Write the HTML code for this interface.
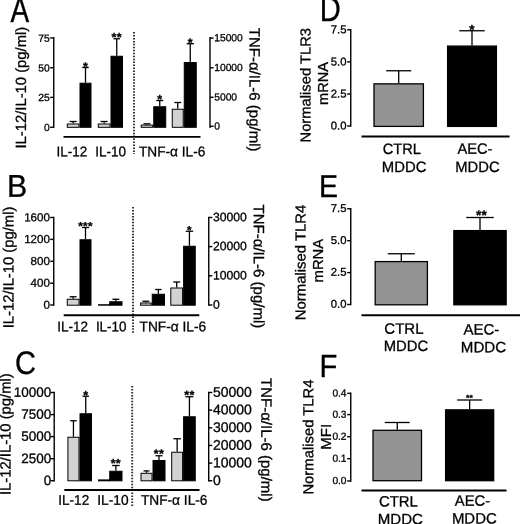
<!DOCTYPE html>
<html lang="en"><head><meta charset="utf-8"><title>Figure</title>
<style>
html,body{margin:0;padding:0;background:#fff;}
body{width:520px;height:524px;overflow:hidden;}
svg{display:block;filter:grayscale(1);}
svg text{font-family:"Liberation Sans", Arial, Helvetica, sans-serif;fill:#000;stroke:#000;stroke-width:0.3px;}
</style></head><body>
<svg width="520" height="524" viewBox="0 0 520 524">
<rect width="520" height="524" fill="#fff"/>
<text transform="translate(10.4 21.6) rotate(0.03) scale(1 1.28)" font-size="27.9">A</text>
<line x1="53.75" y1="37.0" x2="53.75" y2="127.9" stroke="#000" stroke-width="1.4" />
<line x1="50.15" y1="38.0" x2="53.75" y2="38.0" stroke="#000" stroke-width="1.4" />
<text x="49.75" y="41.71" font-size="10.3" text-anchor="end" transform="rotate(0.03 49.75 41.71)" >75</text>
<line x1="50.15" y1="67.7" x2="53.75" y2="67.7" stroke="#000" stroke-width="1.4" />
<text x="49.75" y="71.41" font-size="10.3" text-anchor="end" transform="rotate(0.03 49.75 71.41)" >50</text>
<line x1="50.15" y1="97.4" x2="53.75" y2="97.4" stroke="#000" stroke-width="1.4" />
<text x="49.75" y="101.11" font-size="10.3" text-anchor="end" transform="rotate(0.03 49.75 101.11)" >25</text>
<line x1="50.15" y1="127.2" x2="53.75" y2="127.2" stroke="#000" stroke-width="1.4" />
<text x="49.75" y="130.91" font-size="10.3" text-anchor="end" transform="rotate(0.03 49.75 130.91)" >0</text>
<line x1="210" y1="37.0" x2="210" y2="127.9" stroke="#000" stroke-width="1.4" />
<line x1="210" y1="38.1" x2="213.6" y2="38.1" stroke="#000" stroke-width="1.4" />
<text x="214.2" y="41.31" font-size="10.3" text-anchor="start" transform="rotate(0.03 214.2 41.31)" >15000</text>
<line x1="210" y1="67.8" x2="213.6" y2="67.8" stroke="#000" stroke-width="1.4" />
<text x="214.2" y="71.01" font-size="10.3" text-anchor="start" transform="rotate(0.03 214.2 71.01)" >10000</text>
<line x1="210" y1="97.3" x2="213.6" y2="97.3" stroke="#000" stroke-width="1.4" />
<text x="214.2" y="100.51" font-size="10.3" text-anchor="start" transform="rotate(0.03 214.2 100.51)" >5000</text>
<line x1="210" y1="126.3" x2="213.6" y2="126.3" stroke="#000" stroke-width="1.4" />
<text x="214.2" y="129.51" font-size="10.3" text-anchor="start" transform="rotate(0.03 214.2 129.51)" >0</text>
<text x="26.0" y="148.5" font-size="14.8" text-anchor="start" transform="rotate(-89.97 26.0 148.5)" >IL-12/IL-10 (pg/ml)</text>
<text x="249.6" y="27.8" font-size="15" text-anchor="start" transform="rotate(90.03 249.6 27.8)" >TNF-α/IL-6 (pg/ml)</text>
<line x1="134.0" y1="32" x2="134.0" y2="154" stroke="#2a2a2a" stroke-width="1.9" stroke-dasharray="1.5 1.46"/>
<line x1="73.15" y1="121.5" x2="73.15" y2="123.5" stroke="#000" stroke-width="1.3" />
<line x1="69.65" y1="121.5" x2="76.65" y2="121.5" stroke="#000" stroke-width="1.3" />
<rect x="67.3" y="124.0" width="11.7" height="3.3" fill="#d2d2d2" stroke="#000" stroke-width="1"/>
<line x1="85.5" y1="67.5" x2="85.5" y2="82.7" stroke="#000" stroke-width="1.3" />
<line x1="82.25" y1="67.5" x2="88.75" y2="67.5" stroke="#000" stroke-width="1.3" />
<rect x="80.0" y="83.2" width="11.0" height="44.1" fill="#000" stroke="#000" stroke-width="1"/>
<text x="85.5" y="71.0" font-size="12.5" text-anchor="middle" transform="rotate(0.03 85.5 71.0)" font-weight="bold" stroke="none" letter-spacing="0.3">*</text>
<line x1="104.15" y1="121.5" x2="104.15" y2="123.5" stroke="#000" stroke-width="1.3" />
<line x1="100.65" y1="121.5" x2="107.65" y2="121.5" stroke="#000" stroke-width="1.3" />
<rect x="98.3" y="124.0" width="11.7" height="3.3" fill="#d2d2d2" stroke="#000" stroke-width="1"/>
<line x1="116.75" y1="38.75" x2="116.75" y2="55.75" stroke="#000" stroke-width="1.3" />
<line x1="113.5" y1="38.75" x2="120.0" y2="38.75" stroke="#000" stroke-width="1.3" />
<rect x="111.0" y="56.25" width="11.5" height="71.05" fill="#000" stroke="#000" stroke-width="1"/>
<text x="116.75" y="41.5" font-size="12.5" text-anchor="middle" transform="rotate(0.03 116.75 41.5)" font-weight="bold" stroke="none" letter-spacing="0.3">**</text>
<line x1="146.975" y1="123.8" x2="146.975" y2="124.6" stroke="#000" stroke-width="1.3" />
<line x1="143.475" y1="123.8" x2="150.475" y2="123.8" stroke="#000" stroke-width="1.3" />
<rect x="141.2" y="125.1" width="11.55" height="2.2" fill="#d2d2d2" stroke="#000" stroke-width="1"/>
<line x1="159.75" y1="100.5" x2="159.75" y2="106.25" stroke="#000" stroke-width="1.3" />
<line x1="156.25" y1="100.5" x2="163.25" y2="100.5" stroke="#000" stroke-width="1.3" />
<rect x="153.75" y="106.75" width="12.0" height="20.55" fill="#000" stroke="#000" stroke-width="1"/>
<text x="159.75" y="103.5" font-size="12.5" text-anchor="middle" transform="rotate(0.03 159.75 103.5)" font-weight="bold" stroke="none" letter-spacing="0.3">*</text>
<line x1="177.75" y1="102.5" x2="177.75" y2="108.75" stroke="#000" stroke-width="1.3" />
<line x1="174.25" y1="102.5" x2="181.25" y2="102.5" stroke="#000" stroke-width="1.3" />
<rect x="172.25" y="109.25" width="11.0" height="18.05" fill="#d2d2d2" stroke="#000" stroke-width="1"/>
<line x1="190.25" y1="43.7" x2="190.25" y2="62" stroke="#000" stroke-width="1.3" />
<line x1="186.65" y1="43.7" x2="193.85" y2="43.7" stroke="#000" stroke-width="1.3" />
<rect x="184.25" y="62.5" width="12.0" height="64.8" fill="#000" stroke="#000" stroke-width="1"/>
<text x="190.25" y="47.1" font-size="12.5" text-anchor="middle" transform="rotate(0.03 190.25 47.1)" font-weight="bold" stroke="none" letter-spacing="0.3">*</text>
<line x1="63.5" y1="136.9" x2="200.5" y2="136.9" stroke="#000" stroke-width="1.9" />
<text x="56.6" y="156.2" font-size="14" text-anchor="start" textLength="30.6" lengthAdjust="spacingAndGlyphs" transform="rotate(0.03 56.6 156.2)" >IL-12</text>
<text x="95.3" y="156.2" font-size="14" text-anchor="start" textLength="30.8" lengthAdjust="spacingAndGlyphs" transform="rotate(0.03 95.3 156.2)" >IL-10</text>
<text x="139.0" y="156.2" font-size="14" text-anchor="start" textLength="66.3" lengthAdjust="spacingAndGlyphs" transform="rotate(0.03 139.0 156.2)" >TNF-α IL-6</text>
<text transform="translate(6.9 196.7) rotate(0.03) scale(1 1.04)" font-size="30.3">B</text>
<line x1="53.75" y1="216.8" x2="53.75" y2="305.7" stroke="#000" stroke-width="1.4" />
<line x1="50.15" y1="217.5" x2="53.75" y2="217.5" stroke="#000" stroke-width="1.4" />
<text x="49.95" y="221.18" font-size="11.6" text-anchor="end" transform="rotate(0.03 49.95 221.18)" >1600</text>
<line x1="50.15" y1="239.4" x2="53.75" y2="239.4" stroke="#000" stroke-width="1.4" />
<text x="49.95" y="243.08" font-size="11.6" text-anchor="end" transform="rotate(0.03 49.95 243.08)" >1200</text>
<line x1="50.15" y1="261.3" x2="53.75" y2="261.3" stroke="#000" stroke-width="1.4" />
<text x="49.95" y="264.98" font-size="11.6" text-anchor="end" transform="rotate(0.03 49.95 264.98)" >800</text>
<line x1="50.15" y1="283.2" x2="53.75" y2="283.2" stroke="#000" stroke-width="1.4" />
<text x="49.95" y="286.88" font-size="11.6" text-anchor="end" transform="rotate(0.03 49.95 286.88)" >400</text>
<line x1="50.15" y1="305" x2="53.75" y2="305" stroke="#000" stroke-width="1.4" />
<text x="49.95" y="308.68" font-size="11.6" text-anchor="end" transform="rotate(0.03 49.95 308.68)" >0</text>
<line x1="208.75" y1="216.8" x2="208.75" y2="305.7" stroke="#000" stroke-width="1.4" />
<line x1="208.75" y1="217.5" x2="212.35" y2="217.5" stroke="#000" stroke-width="1.4" />
<text x="212.95" y="221.19" font-size="12.2" text-anchor="start" transform="rotate(0.03 212.95 221.19)" >30000</text>
<line x1="208.75" y1="246.6" x2="212.35" y2="246.6" stroke="#000" stroke-width="1.4" />
<text x="212.95" y="250.29" font-size="12.2" text-anchor="start" transform="rotate(0.03 212.95 250.29)" >20000</text>
<line x1="208.75" y1="275.8" x2="212.35" y2="275.8" stroke="#000" stroke-width="1.4" />
<text x="212.95" y="279.49" font-size="12.2" text-anchor="start" transform="rotate(0.03 212.95 279.49)" >10000</text>
<line x1="208.75" y1="305" x2="212.35" y2="305" stroke="#000" stroke-width="1.4" />
<text x="212.95" y="308.69" font-size="12.2" text-anchor="start" transform="rotate(0.03 212.95 308.69)" >0</text>
<text x="13.55" y="328.3" font-size="14.8" text-anchor="start" transform="rotate(-89.97 13.55 328.3)" >IL-12/IL-10 (pg/ml)</text>
<text x="253.8" y="204.6" font-size="15" text-anchor="start" transform="rotate(90.03 253.8 204.6)" >TNF-α/IL-6 (pg/ml)</text>
<line x1="133.0" y1="207" x2="133.0" y2="333" stroke="#2a2a2a" stroke-width="1.9" stroke-dasharray="1.5 1.46"/>
<line x1="73.125" y1="296.75" x2="73.125" y2="298.75" stroke="#000" stroke-width="1.3" />
<line x1="69.625" y1="296.75" x2="76.625" y2="296.75" stroke="#000" stroke-width="1.3" />
<rect x="67.25" y="299.25" width="11.75" height="5.95" fill="#d2d2d2" stroke="#000" stroke-width="1"/>
<line x1="85.5" y1="227.5" x2="85.5" y2="239.25" stroke="#000" stroke-width="1.3" />
<line x1="82.0" y1="227.5" x2="89.0" y2="227.5" stroke="#000" stroke-width="1.3" />
<rect x="80.0" y="239.75" width="11.0" height="65.45" fill="#000" stroke="#000" stroke-width="1"/>
<text x="85.5" y="229.94" font-size="11.5" text-anchor="middle" transform="rotate(0.03 85.5 229.94)" font-weight="bold" stroke="none" letter-spacing="0.3">***</text>
<rect x="98.5" y="304.7" width="11.0" height="0.5" fill="#d2d2d2" stroke="#000" stroke-width="1"/>
<line x1="115.875" y1="299.25" x2="115.875" y2="301.25" stroke="#000" stroke-width="1.3" />
<line x1="112.375" y1="299.25" x2="119.375" y2="299.25" stroke="#000" stroke-width="1.3" />
<rect x="109.75" y="301.75" width="12.25" height="3.45" fill="#000" stroke="#000" stroke-width="1"/>
<line x1="145.875" y1="301.25" x2="145.875" y2="302.5" stroke="#000" stroke-width="1.3" />
<line x1="142.375" y1="301.25" x2="149.375" y2="301.25" stroke="#000" stroke-width="1.3" />
<rect x="140.5" y="303.0" width="10.75" height="2.2" fill="#d2d2d2" stroke="#000" stroke-width="1"/>
<line x1="158.375" y1="289.5" x2="158.375" y2="293.75" stroke="#000" stroke-width="1.3" />
<line x1="155.125" y1="289.5" x2="161.625" y2="289.5" stroke="#000" stroke-width="1.3" />
<rect x="152.25" y="294.25" width="12.25" height="10.95" fill="#000" stroke="#000" stroke-width="1"/>
<line x1="176.7" y1="282" x2="176.7" y2="287.5" stroke="#000" stroke-width="1.3" />
<line x1="173.2" y1="282" x2="180.2" y2="282" stroke="#000" stroke-width="1.3" />
<rect x="170.8" y="288.0" width="11.8" height="17.2" fill="#d2d2d2" stroke="#000" stroke-width="1"/>
<line x1="189.425" y1="231.25" x2="189.425" y2="245.75" stroke="#000" stroke-width="1.3" />
<line x1="185.675" y1="231.25" x2="193.175" y2="231.25" stroke="#000" stroke-width="1.3" />
<rect x="183.6" y="246.25" width="11.65" height="58.95" fill="#000" stroke="#000" stroke-width="1"/>
<text x="189.425" y="233.94" font-size="11.5" text-anchor="middle" transform="rotate(0.03 189.425 233.94)" font-weight="bold" stroke="none" letter-spacing="0.3">*</text>
<line x1="63.7" y1="315.3" x2="199.3" y2="315.3" stroke="#000" stroke-width="1.9" />
<text x="57.2" y="331.2" font-size="14" text-anchor="start" textLength="30.8" lengthAdjust="spacingAndGlyphs" transform="rotate(0.03 57.2 331.2)" >IL-12</text>
<text x="95.9" y="331.2" font-size="14" text-anchor="start" textLength="30.6" lengthAdjust="spacingAndGlyphs" transform="rotate(0.03 95.9 331.2)" >IL-10</text>
<text x="139.5" y="331.2" font-size="14" text-anchor="start" textLength="66.7" lengthAdjust="spacingAndGlyphs" transform="rotate(0.03 139.5 331.2)" >TNF-α IL-6</text>
<text transform="translate(15.1 374.0) rotate(0.03) scale(1 1.12)" font-size="29.0">C</text>
<line x1="54.2" y1="391.8" x2="54.2" y2="481.4" stroke="#000" stroke-width="1.4" />
<line x1="50.6" y1="392.5" x2="54.2" y2="392.5" stroke="#000" stroke-width="1.4" />
<text x="51.2" y="396.76" font-size="13.5" text-anchor="end" transform="rotate(0.03 51.2 396.76)" >10000</text>
<line x1="50.6" y1="414.6" x2="54.2" y2="414.6" stroke="#000" stroke-width="1.4" />
<text x="51.2" y="418.86" font-size="13.5" text-anchor="end" transform="rotate(0.03 51.2 418.86)" >7500</text>
<line x1="50.6" y1="436.6" x2="54.2" y2="436.6" stroke="#000" stroke-width="1.4" />
<text x="51.2" y="440.86" font-size="13.5" text-anchor="end" transform="rotate(0.03 51.2 440.86)" >5000</text>
<line x1="50.6" y1="458.7" x2="54.2" y2="458.7" stroke="#000" stroke-width="1.4" />
<text x="51.2" y="462.96" font-size="13.5" text-anchor="end" transform="rotate(0.03 51.2 462.96)" >2500</text>
<line x1="50.6" y1="480.7" x2="54.2" y2="480.7" stroke="#000" stroke-width="1.4" />
<text x="51.2" y="484.96" font-size="13.5" text-anchor="end" transform="rotate(0.03 51.2 484.96)" >0</text>
<line x1="208.7" y1="391.8" x2="208.7" y2="481.4" stroke="#000" stroke-width="1.4" />
<line x1="208.7" y1="392.5" x2="212.29999999999998" y2="392.5" stroke="#000" stroke-width="1.4" />
<text x="212.89999999999998" y="396.74" font-size="14" text-anchor="start" transform="rotate(0.03 212.89999999999998 396.74)" >50000</text>
<line x1="208.7" y1="410.1" x2="212.29999999999998" y2="410.1" stroke="#000" stroke-width="1.4" />
<text x="212.89999999999998" y="414.34" font-size="14" text-anchor="start" transform="rotate(0.03 212.89999999999998 414.34)" >40000</text>
<line x1="208.7" y1="427.8" x2="212.29999999999998" y2="427.8" stroke="#000" stroke-width="1.4" />
<text x="212.89999999999998" y="432.04" font-size="14" text-anchor="start" transform="rotate(0.03 212.89999999999998 432.04)" >30000</text>
<line x1="208.7" y1="445.4" x2="212.29999999999998" y2="445.4" stroke="#000" stroke-width="1.4" />
<text x="212.89999999999998" y="449.64" font-size="14" text-anchor="start" transform="rotate(0.03 212.89999999999998 449.64)" >20000</text>
<line x1="208.7" y1="463.1" x2="212.29999999999998" y2="463.1" stroke="#000" stroke-width="1.4" />
<text x="212.89999999999998" y="467.34" font-size="14" text-anchor="start" transform="rotate(0.03 212.89999999999998 467.34)" >10000</text>
<line x1="208.7" y1="480.7" x2="212.29999999999998" y2="480.7" stroke="#000" stroke-width="1.4" />
<text x="212.89999999999998" y="484.94" font-size="14" text-anchor="start" transform="rotate(0.03 212.89999999999998 484.94)" >0</text>
<text x="10.4" y="495" font-size="14.8" text-anchor="start" transform="rotate(-89.97 10.4 495)" >IL-12/IL-10 (pg/ml)</text>
<text x="261.3" y="378" font-size="15.0" text-anchor="start" transform="rotate(90.03 261.3 378)" >TNF-α/IL-6 (pg/ml)</text>
<line x1="132.2" y1="386" x2="132.2" y2="506" stroke="#2a2a2a" stroke-width="1.9" stroke-dasharray="1.5 1.46"/>
<line x1="73.45" y1="420.75" x2="73.45" y2="436.75" stroke="#000" stroke-width="1.3" />
<line x1="70.2" y1="420.75" x2="76.7" y2="420.75" stroke="#000" stroke-width="1.3" />
<rect x="67.9" y="437.25" width="11.1" height="43.55" fill="#d2d2d2" stroke="#000" stroke-width="1"/>
<line x1="85.75" y1="396.25" x2="85.75" y2="413.25" stroke="#000" stroke-width="1.3" />
<line x1="82.5" y1="396.25" x2="89.0" y2="396.25" stroke="#000" stroke-width="1.3" />
<rect x="80.0" y="413.75" width="11.5" height="67.05" fill="#000" stroke="#000" stroke-width="1"/>
<text x="85.75" y="399.5" font-size="12.5" text-anchor="middle" transform="rotate(0.03 85.75 399.5)" font-weight="bold" stroke="none" letter-spacing="0.3">*</text>
<rect x="98.5" y="479.9" width="11.0" height="0.9" fill="#d2d2d2" stroke="#000" stroke-width="1"/>
<line x1="115.875" y1="465.5" x2="115.875" y2="470.75" stroke="#000" stroke-width="1.3" />
<line x1="112.125" y1="465.5" x2="119.625" y2="465.5" stroke="#000" stroke-width="1.3" />
<rect x="109.75" y="471.25" width="12.25" height="9.55" fill="#000" stroke="#000" stroke-width="1"/>
<text x="115.875" y="467.5" font-size="12.5" text-anchor="middle" transform="rotate(0.03 115.875 467.5)" font-weight="bold" stroke="none" letter-spacing="0.3">**</text>
<line x1="146.5" y1="470.9" x2="146.5" y2="472.8" stroke="#000" stroke-width="1.3" />
<line x1="143.5" y1="470.9" x2="149.5" y2="470.9" stroke="#000" stroke-width="1.3" />
<rect x="141.0" y="473.3" width="11.0" height="7.5" fill="#d2d2d2" stroke="#000" stroke-width="1"/>
<line x1="159.0" y1="455.75" x2="159.0" y2="460" stroke="#000" stroke-width="1.3" />
<line x1="155.5" y1="455.75" x2="162.5" y2="455.75" stroke="#000" stroke-width="1.3" />
<rect x="153.0" y="460.5" width="12.0" height="20.3" fill="#000" stroke="#000" stroke-width="1"/>
<text x="159.0" y="458.0" font-size="12.5" text-anchor="middle" transform="rotate(0.03 159.0 458.0)" font-weight="bold" stroke="none" letter-spacing="0.3">**</text>
<line x1="177.14999999999998" y1="438.75" x2="177.14999999999998" y2="451.75" stroke="#000" stroke-width="1.3" />
<line x1="173.39999999999998" y1="438.75" x2="180.89999999999998" y2="438.75" stroke="#000" stroke-width="1.3" />
<rect x="171.7" y="452.25" width="10.9" height="28.55" fill="#d2d2d2" stroke="#000" stroke-width="1"/>
<line x1="189.425" y1="396.75" x2="189.425" y2="416.25" stroke="#000" stroke-width="1.3" />
<line x1="185.425" y1="396.75" x2="193.425" y2="396.75" stroke="#000" stroke-width="1.3" />
<rect x="183.6" y="416.75" width="11.65" height="64.05" fill="#000" stroke="#000" stroke-width="1"/>
<text x="189.425" y="399.3" font-size="12.5" text-anchor="middle" transform="rotate(0.03 189.425 399.3)" font-weight="bold" stroke="none" letter-spacing="0.3">**</text>
<line x1="64.3" y1="490.0" x2="199.5" y2="490.0" stroke="#000" stroke-width="1.9" />
<text x="58.3" y="504.8" font-size="14" text-anchor="start" textLength="30.9" lengthAdjust="spacingAndGlyphs" transform="rotate(0.03 58.3 504.8)" >IL-12</text>
<text x="97.25" y="504.8" font-size="14" text-anchor="start" textLength="31.3" lengthAdjust="spacingAndGlyphs" transform="rotate(0.03 97.25 504.8)" >IL-10</text>
<text x="140.9" y="504.8" font-size="14" text-anchor="start" textLength="66.6" lengthAdjust="spacingAndGlyphs" transform="rotate(0.03 140.9 504.8)" >TNF-α IL-6</text>
<text transform="translate(319.8 20.5) rotate(0.03) scale(1 1.2)" font-size="29.1">D</text>
<line x1="350.75" y1="29.1" x2="350.75" y2="126.7" stroke="#000" stroke-width="1.4" />
<line x1="347.15" y1="29.8" x2="350.75" y2="29.8" stroke="#000" stroke-width="1.4" />
<text x="346.55" y="33.37" font-size="11.3" text-anchor="end" transform="rotate(0.03 346.55 33.37)" >7.5</text>
<line x1="347.15" y1="61.9" x2="350.75" y2="61.9" stroke="#000" stroke-width="1.4" />
<text x="346.55" y="65.47" font-size="11.3" text-anchor="end" transform="rotate(0.03 346.55 65.47)" >5.0</text>
<line x1="347.15" y1="94.0" x2="350.75" y2="94.0" stroke="#000" stroke-width="1.4" />
<text x="346.55" y="97.57" font-size="11.3" text-anchor="end" transform="rotate(0.03 346.55 97.57)" >2.5</text>
<line x1="347.15" y1="126.0" x2="350.75" y2="126.0" stroke="#000" stroke-width="1.4" />
<text x="346.55" y="129.57" font-size="11.3" text-anchor="end" transform="rotate(0.03 346.55 129.57)" >0.0</text>
<text x="310.5" y="142.5" font-size="14.5" text-anchor="start" textLength="114.5" lengthAdjust="spacingAndGlyphs" transform="rotate(-89.97 310.5 142.5)" >Normalised TLR3</text>
<text x="327.9" y="104.9" font-size="14.5" text-anchor="start" textLength="42.8" lengthAdjust="spacingAndGlyphs" transform="rotate(-89.97 327.9 104.9)" >mRNA</text>
<line x1="398.7" y1="70.75" x2="398.7" y2="83.25" stroke="#000" stroke-width="1.3" />
<line x1="386.2" y1="70.75" x2="411.2" y2="70.75" stroke="#000" stroke-width="1.3" />
<rect x="374.0" y="83.85" width="49.4" height="42.55" fill="#939393" stroke="#000" stroke-width="1.3"/>
<line x1="472.0" y1="30.75" x2="472.0" y2="45.5" stroke="#000" stroke-width="1.3" />
<line x1="459.25" y1="30.75" x2="484.75" y2="30.75" stroke="#000" stroke-width="1.3" />
<rect x="447.6" y="46.1" width="48.8" height="80.3" fill="#000" stroke="#000" stroke-width="1.3"/>
<text x="472.0" y="34.16" font-size="13.5" text-anchor="middle" transform="rotate(0.03 472.0 34.16)" font-weight="bold" stroke="none" letter-spacing="0.3">*</text>
<line x1="361.5" y1="136.5" x2="509.6" y2="136.5" stroke="#000" stroke-width="1.9" />
<text x="382.7" y="153.9" font-size="15" text-anchor="start" textLength="38.2" lengthAdjust="spacingAndGlyphs" transform="rotate(0.03 382.7 153.9)" >CTRL</text>
<text x="381.8" y="171.9" font-size="15" text-anchor="start" textLength="44.6" lengthAdjust="spacingAndGlyphs" transform="rotate(0.03 381.8 171.9)" >MDDC</text>
<text x="457.5" y="153.7" font-size="15" text-anchor="start" textLength="35.0" lengthAdjust="spacingAndGlyphs" transform="rotate(0.03 457.5 153.7)" >AEC-</text>
<text x="455.2" y="171.9" font-size="15" text-anchor="start" textLength="44.4" lengthAdjust="spacingAndGlyphs" transform="rotate(0.03 455.2 171.9)" >MDDC</text>
<text transform="translate(319 197.1) rotate(0.03) scale(1 1.105)" font-size="28.5">E</text>
<line x1="350.75" y1="208.05" x2="350.75" y2="305.2" stroke="#000" stroke-width="1.4" />
<line x1="347.15" y1="208.75" x2="350.75" y2="208.75" stroke="#000" stroke-width="1.4" />
<text x="346.55" y="212.02" font-size="11.3" text-anchor="end" transform="rotate(0.03 346.55 212.02)" >7.5</text>
<line x1="347.15" y1="240.7" x2="350.75" y2="240.7" stroke="#000" stroke-width="1.4" />
<text x="346.55" y="243.97" font-size="11.3" text-anchor="end" transform="rotate(0.03 346.55 243.97)" >5.0</text>
<line x1="347.15" y1="272.6" x2="350.75" y2="272.6" stroke="#000" stroke-width="1.4" />
<text x="346.55" y="275.87" font-size="11.3" text-anchor="end" transform="rotate(0.03 346.55 275.87)" >2.5</text>
<line x1="347.15" y1="304.5" x2="350.75" y2="304.5" stroke="#000" stroke-width="1.4" />
<text x="346.55" y="307.77" font-size="11.3" text-anchor="end" transform="rotate(0.03 346.55 307.77)" >0.0</text>
<text x="305.5" y="320.2" font-size="14.5" text-anchor="start" textLength="115.6" lengthAdjust="spacingAndGlyphs" transform="rotate(-89.97 305.5 320.2)" >Normalised TLR4</text>
<text x="323.1" y="282.45" font-size="14.5" text-anchor="start" textLength="43.7" lengthAdjust="spacingAndGlyphs" transform="rotate(-89.97 323.1 282.45)" >mRNA</text>
<line x1="401.3" y1="253.75" x2="401.3" y2="261.0" stroke="#000" stroke-width="1.3" />
<line x1="387.8" y1="253.75" x2="414.8" y2="253.75" stroke="#000" stroke-width="1.3" />
<rect x="375.20000000000005" y="261.6" width="52.2" height="43.2" fill="#939393" stroke="#000" stroke-width="1.3"/>
<line x1="480.0" y1="217.5" x2="480.0" y2="230" stroke="#000" stroke-width="1.3" />
<line x1="466.25" y1="217.5" x2="493.75" y2="217.5" stroke="#000" stroke-width="1.3" />
<rect x="453.85" y="230.6" width="52.3" height="74.2" fill="#000" stroke="#000" stroke-width="1.3"/>
<text x="481.5" y="219.86" font-size="13.5" text-anchor="middle" transform="rotate(0.03 481.5 219.86)" font-weight="bold" stroke="none" letter-spacing="0.3">**</text>
<line x1="361.5" y1="315.2" x2="520" y2="315.2" stroke="#000" stroke-width="1.9" />
<text x="384.3" y="333.8" font-size="15" text-anchor="start" textLength="39.2" lengthAdjust="spacingAndGlyphs" transform="rotate(0.03 384.3 333.8)" >CTRL</text>
<text x="383.7" y="351.0" font-size="15" text-anchor="start" textLength="44.5" lengthAdjust="spacingAndGlyphs" transform="rotate(0.03 383.7 351.0)" >MDDC</text>
<text x="463.5" y="334.5" font-size="15" text-anchor="start" textLength="35.8" lengthAdjust="spacingAndGlyphs" transform="rotate(0.03 463.5 334.5)" >AEC-</text>
<text x="460.8" y="352.3" font-size="15" text-anchor="start" textLength="45.3" lengthAdjust="spacingAndGlyphs" transform="rotate(0.03 460.8 352.3)" >MDDC</text>
<text transform="translate(319.6 376.9) rotate(0.03) scale(1 1.097)" font-size="29.2">F</text>
<line x1="350.75" y1="392.55" x2="350.75" y2="481.7" stroke="#000" stroke-width="1.4" />
<line x1="347.15" y1="393.35" x2="350.75" y2="393.35" stroke="#000" stroke-width="1.4" />
<text x="346.55" y="396.42" font-size="10.2" text-anchor="end" transform="rotate(0.03 346.55 396.42)" >0.4</text>
<line x1="347.15" y1="414.6" x2="350.75" y2="414.6" stroke="#000" stroke-width="1.4" />
<text x="346.55" y="417.67" font-size="10.2" text-anchor="end" transform="rotate(0.03 346.55 417.67)" >0.3</text>
<line x1="347.15" y1="436.7" x2="350.75" y2="436.7" stroke="#000" stroke-width="1.4" />
<text x="346.55" y="439.77" font-size="10.2" text-anchor="end" transform="rotate(0.03 346.55 439.77)" >0.2</text>
<line x1="347.15" y1="458.7" x2="350.75" y2="458.7" stroke="#000" stroke-width="1.4" />
<text x="346.55" y="461.77" font-size="10.2" text-anchor="end" transform="rotate(0.03 346.55 461.77)" >0.1</text>
<line x1="347.15" y1="481" x2="350.75" y2="481" stroke="#000" stroke-width="1.4" />
<text x="346.55" y="484.07" font-size="10.2" text-anchor="end" transform="rotate(0.03 346.55 484.07)" >0.0</text>
<text x="313.3" y="494.6" font-size="14.5" text-anchor="start" textLength="115.1" lengthAdjust="spacingAndGlyphs" transform="rotate(-89.97 313.3 494.6)" >Normalised TLR4</text>
<text x="331.1" y="449.65" font-size="14.5" text-anchor="start" textLength="25.9" lengthAdjust="spacingAndGlyphs" transform="rotate(-89.97 331.1 449.65)" >MFI</text>
<line x1="397.25" y1="422.5" x2="397.25" y2="429.7" stroke="#000" stroke-width="1.3" />
<line x1="384.75" y1="422.5" x2="409.75" y2="422.5" stroke="#000" stroke-width="1.3" />
<rect x="373.0" y="430.3" width="48.5" height="50.4" fill="#939393" stroke="#000" stroke-width="1.3"/>
<line x1="469.625" y1="400" x2="469.625" y2="409.25" stroke="#000" stroke-width="1.3" />
<line x1="457.125" y1="400" x2="482.125" y2="400" stroke="#000" stroke-width="1.3" />
<rect x="445.6" y="409.85" width="48.05" height="70.85" fill="#000" stroke="#000" stroke-width="1.3"/>
<text x="469.625" y="400.66" font-size="8.5" text-anchor="middle" transform="rotate(0.03 469.625 400.66)" font-weight="bold" stroke="none" letter-spacing="0.3">**</text>
<line x1="361.5" y1="490.5" x2="506.5" y2="490.5" stroke="#000" stroke-width="1.9" />
<text x="378.9" y="506.5" font-size="15" text-anchor="start" textLength="38.9" lengthAdjust="spacingAndGlyphs" transform="rotate(0.03 378.9 506.5)" >CTRL</text>
<text x="377.8" y="524.2" font-size="15" text-anchor="start" textLength="45.2" lengthAdjust="spacingAndGlyphs" transform="rotate(0.03 377.8 524.2)" >MDDC</text>
<text x="454.8" y="505.7" font-size="15" text-anchor="start" textLength="35.3" lengthAdjust="spacingAndGlyphs" transform="rotate(0.03 454.8 505.7)" >AEC-</text>
<text x="451.9" y="523.6" font-size="15" text-anchor="start" textLength="44.9" lengthAdjust="spacingAndGlyphs" transform="rotate(0.03 451.9 523.6)" >MDDC</text>
</svg></body></html>
